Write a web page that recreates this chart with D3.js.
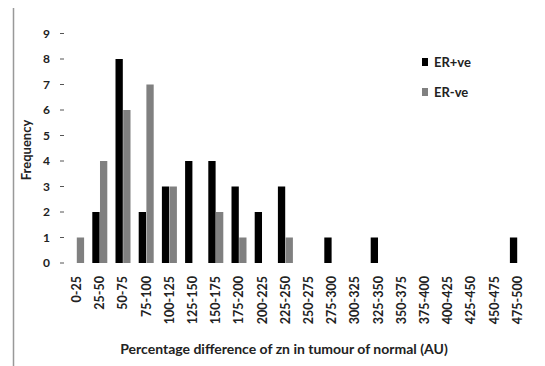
<!DOCTYPE html>
<html>
<head>
<meta charset="utf-8">
<script src="https://d3js.org/d3.v7.min.js"></script>
<style>
  body { margin: 0; background: #fff; }
  text { font-family: Lato, "Open Sans", sans-serif; fill: #222; }
</style>
</head>
<body>
<svg id="chart" width="545" height="366"></svg>
<script>
// Bins of percentage difference
const categories = ["0-25", "25-50", "50-75", "75-100", "100-125", "125-150", "150-175", "175-200",
  "200-225", "225-250", "250-275", "275-300", "300-325", "325-350", "350-375", "375-400",
  "400-425", "425-450", "450-475", "475-500"];
const erPos = [0, 2, 8, 2, 3, 4, 4, 3, 2, 3, 0, 1, 0, 1, 0, 0, 0, 0, 0, 1];
const erNeg = [1, 4, 6, 7, 3, 0, 2, 1, 0, 1, 0, 0, 0, 0, 0, 0, 0, 0, 0, 0];
const seriesNames = ["ER+ve", "ER-ve"];
const seriesColors = ["#000000", "#808080"];
const yTicks = [0, 1, 2, 3, 4, 5, 6, 7, 8, 9];

const svg = d3.select("#chart");

// frame line on the left edge of the picture
svg.append("line")
  .attr("x1", 13.5).attr("x2", 13.5)
  .attr("y1", 8).attr("y2", 366)
  .attr("stroke", "#999").attr("stroke-width", 1.5);

const x = d3.scaleBand().domain(categories).range([65, 529]);
const y = d3.scaleLinear().domain([0, 9]).range([263, 33.5]);
const sub = d3.scaleBand().domain(seriesNames).range([-7.5, 7.5]).paddingInner(0.05);

const rows = categories.map((c, i) => ({ cat: c, vals: [erPos[i], erNeg[i]] }));

// y axis: labels and short tick marks only
const yg = svg.append("g");
yg.selectAll("line")
  .data(yTicks)
  .join("line")
  .attr("x1", 60).attr("x2", 64)
  .attr("y1", d => y(d)).attr("y2", d => y(d))
  .attr("stroke", "#555");
yg.selectAll("text")
  .data(yTicks)
  .join("text")
  .attr("x", 50)
  .attr("y", d => y(d))
  .attr("dy", "0.35em")
  .attr("text-anchor", "end")
  .attr("font-size", 12)
  .attr("font-weight", "bold")
  .text(d => d);

// bars
svg.append("g")
  .selectAll("g")
  .data(rows)
  .join("g")
  .attr("transform", d => `translate(${x(d.cat) + x.bandwidth() / 2},0)`)
  .selectAll("rect")
  .data(d => d.vals.map((v, j) => ({ v, s: seriesNames[j], c: seriesColors[j] })))
  .join("rect")
  .attr("x", d => sub(d.s))
  .attr("width", sub.bandwidth())
  .attr("y", d => y(d.v))
  .attr("height", d => y(0) - y(d.v))
  .attr("fill", d => d.c);

// x tick labels, rotated
svg.append("g")
  .selectAll("text")
  .data(categories)
  .join("text")
  .attr("transform", d => `translate(${x(d) + x.bandwidth() / 2},276) rotate(-90)`)
  .attr("dy", "0.35em")
  .attr("text-anchor", "end")
  .attr("font-size", 12.5)
  .attr("font-weight", "bold")
  .text(d => d);

// axis titles
svg.append("text")
  .attr("x", 284).attr("y", 354)
  .attr("text-anchor", "middle")
  .attr("font-size", 14)
  .attr("font-weight", "bold")
  .text("Percentage difference of zn in tumour of normal (AU)");

svg.append("text")
  .attr("transform", "translate(31,150) rotate(-90)")
  .attr("text-anchor", "middle")
  .attr("font-size", 13)
  .attr("font-weight", "bold")
  .text("Frequency");

// legend
const lg = svg.append("g")
  .selectAll("g")
  .data(seriesNames)
  .join("g")
  .attr("transform", (d, i) => `translate(422,${58 + i * 30})`);
lg.append("rect")
  .attr("width", 6).attr("height", 8)
  .attr("fill", (d, i) => seriesColors[i]);
lg.append("text")
  .attr("x", 12).attr("y", 4)
  .attr("dy", "0.35em")
  .attr("font-size", 13)
  .attr("font-weight", "bold")
  .text(d => d);
</script>
</body>
</html>
